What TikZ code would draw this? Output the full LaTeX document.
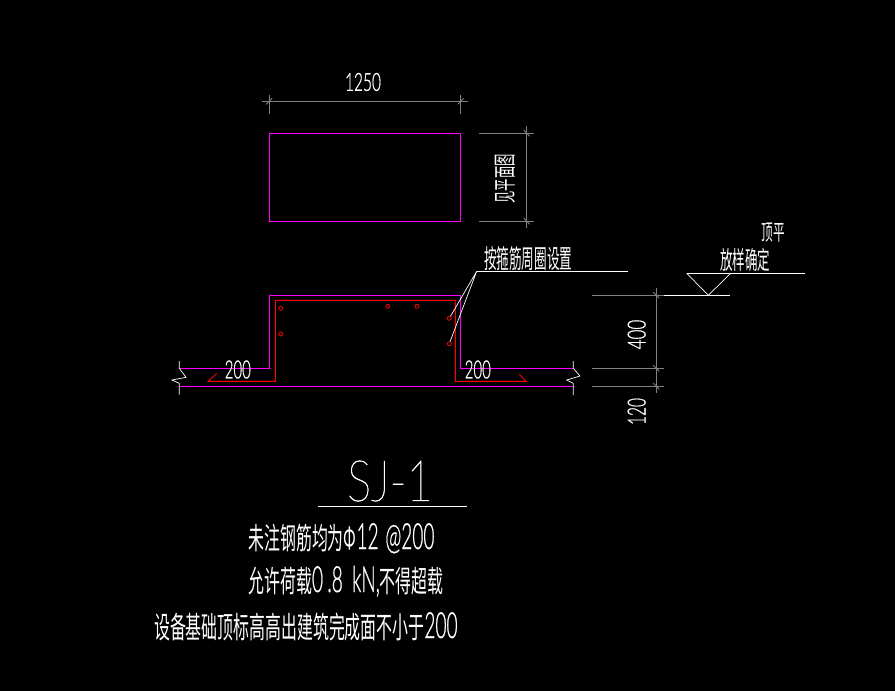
\documentclass[tikz,border=0pt]{standalone}
\usepackage{fontspec}
\setmainfont{Liberation Sans}
\newfontfamily\cjk{Noto Sans CJK SC}
\newfontfamily\numfont[RawFeature={embolden=1}]{Lato Light}
\newfontfamily\titlefont[RawFeature={embolden=1}]{Lato Thin}
\definecolor{cadmagenta}{RGB}{255,0,255}
\definecolor{cadred}{RGB}{255,0,0}
\definecolor{cadgray}{RGB}{128,128,128}
\newcommand{\tallnum}[1]{{\numfont\fontsize{36}{36}\selectfont #1}}
\tikzset{
  concrete/.style={draw=cadmagenta, line width=0.9pt},
  rebar/.style={draw=cadred, line width=0.9pt},
  dimline/.style={draw=cadgray, line width=0.9pt},
  leader/.style={draw=white, line width=0.7pt},
  barmark/.style={draw=cadred, line width=0.8pt, circle, minimum size=4pt, inner sep=0pt},
  cadtext/.style={text=white, inner sep=0pt, font=\cjk\fontsize{#1}{#1}\selectfont},
  numtext/.style={text=white, inner sep=0pt, font=\numfont\fontsize{#1}{#1}\selectfont},
  titletext/.style={text=white, inner sep=0pt, font=\titlefont\fontsize{#1}{#1}\selectfont},
}

\begin{document}
\begin{tikzpicture}[x=1pt, y=-1pt]
\fill[black] (0,0) rectangle (895,691);
% plan
\draw[concrete] (269.3,133.3) rectangle (460.7,221.3);
\draw[dimline] (262,101.3)--(467.7,101.3);
\draw[dimline] (269.3,95)--(269.3,114.3);
\draw[dimline] (460.7,95)--(460.7,114.3);
\draw[dimline] (266.3,104.3)--(272.3,98.3);
\draw[dimline] (457.7,104.3)--(463.7,98.3);
\draw[dimline] (479,133.3)--(534,133.3);
\draw[dimline] (479,221.3)--(534,221.3);
\draw[dimline] (526.7,126)--(526.7,227.7);
\draw[dimline] (523.7,130.3)--(529.7,136.3);
\draw[dimline] (523.7,218.3)--(529.7,224.3);
\node (width) [numtext=25, xscale=0.62, transform shape] at (363,82) {1250};
\node (height) [cadtext=23, rotate=90, xscale=0.535, transform shape] at (505,178.7) {见平面图};
% section
\draw[concrete] (179.3,368.3)--(269.3,368.3)--(269.3,295.3)--(460.7,295.3)--(460.7,368.3)--(573.3,368.3);
\draw[concrete] (179.3,386.3)--(573.3,386.3);
\draw[rebar] (216.7,373.3)--(208.3,381.3)--(275.3,381.3)--(275.3,300.3)--(455.3,300.3)--(455.3,381.3)--(526,381.3)--(519.3,374.3);
\draw[leader] (179.3,361)--(179.3,368.3)--(186,377.3)--(172,380)--(179.3,383.3)--(179.3,394.7);
\draw[leader] (573.3,361)--(573.3,368.3)--(580,376)--(566.7,380)--(573.3,383.3)--(573.3,395);
\node (barA) [barmark] at (280.7,308.3) {};
\node (barB) [barmark] at (280.7,334) {};
\node (barC) [barmark] at (387.7,306.3) {};
\node (barD) [barmark] at (417,306.3) {};
\node (barE) [barmark] at (449.3,318.3) {};
\node (barF) [barmark] at (449.3,343.7) {};
\coordinate (bend) at (476.7,271.3);
\coordinate (noteend) at (627.7,271.3);
\draw[leader] (barE)--(bend)--(barF);
\draw[leader] (bend)--(noteend);
\node (note) [cadtext=26, xscale=0.485, transform shape] at (528.3,258.7) {按箍筋周圈设置};
\node (legL) [numtext=25, xscale=0.6, transform shape] at (237.8,369.5) {200};
\node (legR) [numtext=25, xscale=0.6, transform shape] at (477.8,369.5) {200};
% levels
\draw[dimline] (592,295.3)--(664,295.3);
\draw[dimline] (592,368.3)--(664,368.3);
\draw[dimline] (592,386.3)--(664,386.3);
\draw[dimline] (656.3,288.3)--(656.3,392.7);
\draw[dimline] (653.3,292.3)--(659.3,298.3);
\draw[dimline] (653.3,365.3)--(659.3,371.3);
\draw[dimline] (653.3,383.3)--(659.3,389.3);
\node (upper) [numtext=25, rotate=90, xscale=0.68, transform shape] at (636.7,334.5) {400};
\node (lower) [numtext=25, rotate=90, xscale=0.62, transform shape] at (636.7,411.5) {120};
\draw[leader] (664,295.3)--(730,295.3);
\draw[leader] (686.7,273.3)--(708.3,295.3)--(730.7,273.3);
\draw[leader] (686.7,273.3)--(805,273.3);
\node (levelA) [cadtext=22, xscale=0.53, transform shape] at (773.3,233) {顶平};
\node (levelB) [cadtext=25, xscale=0.5, transform shape] at (745,260) {放样确定};
% title
\node (title) [titletext=57, xscale=0.8, transform shape] at (390,481) {SJ-1};
\draw[leader] (318,506.3)--(467,506.3);
\node (lineA) [cadtext=30, xscale=0.53, transform shape, anchor=base west] at (248.3,549) {未注钢筋均为Φ\tallnum{12\hspace{3pt} @200}};
\node (lineB) [cadtext=30, xscale=0.53, transform shape, anchor=base west] at (248.3,592) {允许荷载\tallnum{0\hspace{8pt}.8\hspace{8pt} kN,}不得超载};
\node (lineC) [cadtext=30, xscale=0.53, transform shape, anchor=base west] at (154,638) {设备基础顶标高高出建筑完成面不小于\tallnum{200}};
\end{tikzpicture}
\end{document}
